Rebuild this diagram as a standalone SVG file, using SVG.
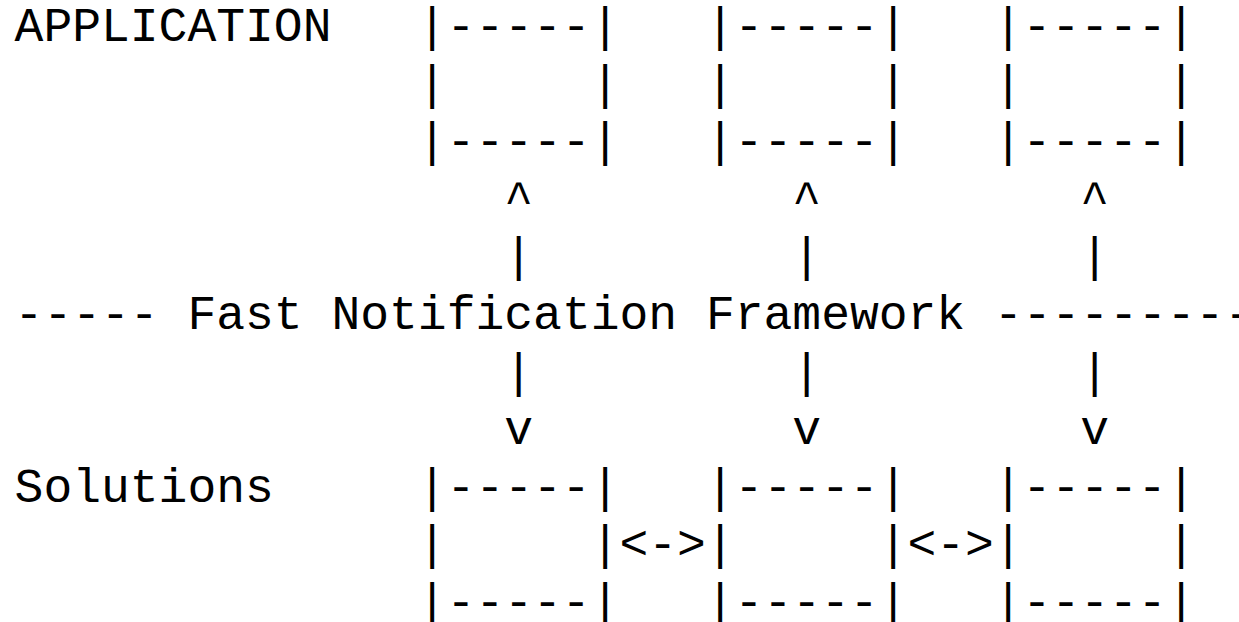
<svg xmlns="http://www.w3.org/2000/svg" width="1239" height="622" viewBox="0 0 1239 622" xml:space="preserve">
  <style>
    text { font-family: "Liberation Mono", "Courier New", monospace; font-size: 48px; fill: #000; white-space: pre; }
  </style>
  <rect width="1239" height="622" fill="#fff"/>

  <!-- layer labels -->
  <g id="label-application"><text x="14.6" y="41">APPLICATION</text></g>
  <g id="label-solutions"><text x="14.6" y="501.8">Solutions</text></g>
  <g id="framework-bar"><text x="14.6" y="329">----- Fast Notification Framework ----------</text></g>

  <!-- application boxes -->
  <g id="app-1">
    <text x="417.8" y="41">|-----|</text>
    <text x="417.8" y="98.6">|     |</text>
    <text x="417.8" y="156.2">|-----|</text>
  </g>
  <g id="app-2">
    <text x="705.8" y="41">|-----|</text>
    <text x="705.8" y="98.6">|     |</text>
    <text x="705.8" y="156.2">|-----|</text>
  </g>
  <g id="app-3">
    <text x="993.8" y="41">|-----|</text>
    <text x="993.8" y="98.6">|     |</text>
    <text x="993.8" y="156.2">|-----|</text>
  </g>

  <!-- solution boxes -->
  <g id="sol-1">
    <text x="417.8" y="501.8">|-----|</text>
    <text x="417.8" y="559.4">|     |</text>
    <text x="417.8" y="617">|-----|</text>
  </g>
  <g id="sol-2">
    <text x="705.8" y="501.8">|-----|</text>
    <text x="705.8" y="559.4">|     |</text>
    <text x="705.8" y="617">|-----|</text>
  </g>
  <g id="sol-3">
    <text x="993.8" y="501.8">|-----|</text>
    <text x="993.8" y="559.4">|     |</text>
    <text x="993.8" y="617">|-----|</text>
  </g>

  <!-- connectors -->
  <g id="connectors">
    <text x="504.2" y="213.8">^</text>
    <text x="792.2" y="213.8">^</text>
    <text x="1080.2" y="213.8">^</text>
    <text x="504.2" y="271.4">|</text>
    <text x="792.2" y="271.4">|</text>
    <text x="1080.2" y="271.4">|</text>
    <text x="504.2" y="386.6">|</text>
    <text x="792.2" y="386.6">|</text>
    <text x="1080.2" y="386.6">|</text>
    <text x="504.2" y="444.2">v</text>
    <text x="792.2" y="444.2">v</text>
    <text x="1080.2" y="444.2">v</text>
    <text x="619.4" y="559.4">&lt;-&gt;</text>
    <text x="907.4" y="559.4">&lt;-&gt;</text>
  </g>
</svg>
